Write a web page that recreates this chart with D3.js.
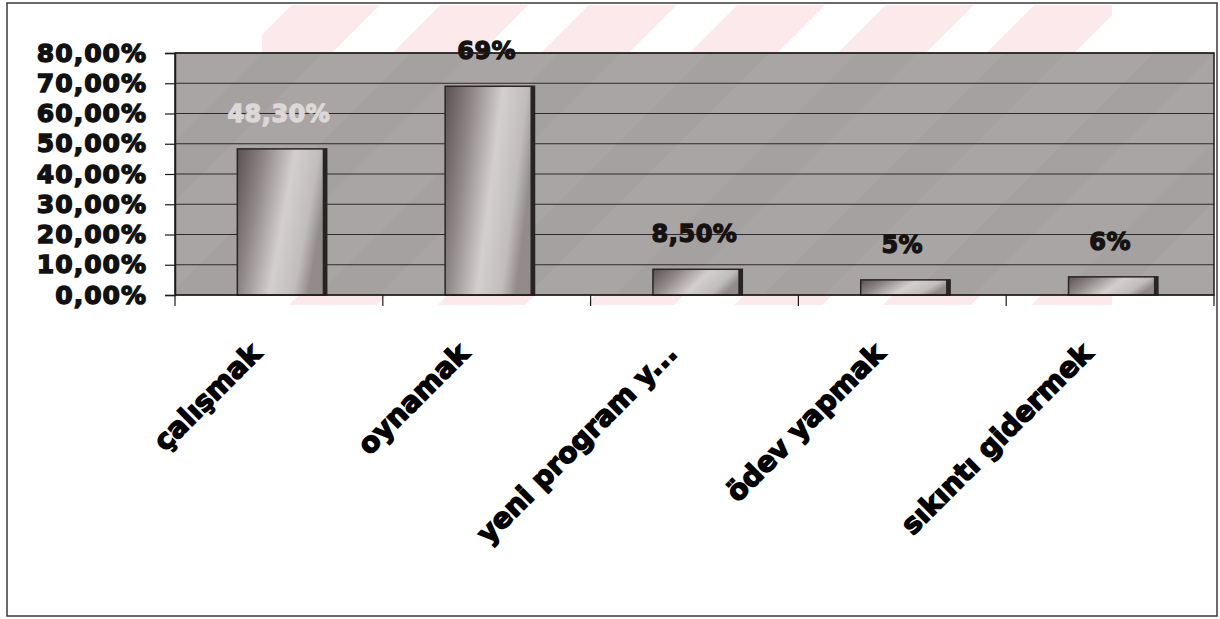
<!DOCTYPE html>
<html>
<head>
<meta charset="utf-8">
<script src="https://d3js.org/d3.v7.min.js"></script>
<style>
  body { margin: 0; background: #fff; }
  text { font-family: "DejaVu Sans", "Liberation Sans", sans-serif; font-weight: bold; }
</style>
</head>
<body>
<div id="d3-viz-container"></div>
<script>
// data
const categories = ["çalışmak", "oynamak", "yeni program y...", "ödev yapmak", "sıkıntı gidermek"];
const values = [48.3, 69, 8.5, 5, 6];
const valueLabels = ["48,30%", "69%", "8,50%", "5%", "6%"];
const yTicks = [0, 10, 20, 30, 40, 50, 60, 70, 80];

const W = 1220, H = 619;
const margin = { top: 53, right: 6, bottom: 324, left: 175 },
    width = W - margin.left - margin.right,
    height = H - margin.top - margin.bottom;

const root = d3.select("#d3-viz-container")
    .append("svg")
    .attr("width", W)
    .attr("height", H);

const defs = root.append("defs");

// pink watermark stripes (thesis scan)
const wm = defs.append("pattern")
    .attr("id", "wm")
    .attr("patternUnits", "userSpaceOnUse")
    .attr("width", 105)
    .attr("height", 105)
    .attr("patternTransform", "rotate(45)");
wm.append("rect").attr("width", 62).attr("height", 105).attr("fill", "#f9dfe2");

// bar shading
const grad = defs.append("linearGradient")
    .attr("id", "barGrad")
    .attr("x1", "0%").attr("y1", "0%").attr("x2", "100%").attr("y2", "30%");
[["0%", "#5a5151"], ["30%", "#918a8a"], ["60%", "#d4cfcf"], ["85%", "#c2bdbd"], ["100%", "#938b8b"]]
    .forEach(s => grad.append("stop").attr("offset", s[0]).attr("stop-color", s[1]));

// outer frame
root.append("rect")
    .attr("x", 7).attr("y", 3)
    .attr("width", W - 10).attr("height", H - 6)
    .attr("fill", "none")
    .attr("stroke", "#3a3a3a")
    .attr("stroke-width", 1.5);

// watermark outside the plot
root.append("rect")
    .attr("x", 262).attr("y", 5)
    .attr("width", 850).attr("height", 300)
    .attr("fill", "url(#wm)")
    .attr("opacity", 0.7);

const svg = root.append("g")
    .attr("transform", `translate(${margin.left},${margin.top})`);

// X scale
const x = d3.scaleBand()
    .domain(categories)
    .range([0, width])
    .padding(0);

// Y scale
const y = d3.scaleLinear()
    .domain([0, 80])
    .range([height, 0]);

// plot background
svg.append("rect")
    .attr("width", width)
    .attr("height", height)
    .attr("fill", "#a5a1a1");
svg.append("rect")
    .attr("width", width)
    .attr("height", height)
    .attr("fill", "url(#wm)")
    .attr("opacity", 0.06);

// gridlines
svg.append("g")
    .selectAll("line")
    .data(yTicks)
    .join("line")
    .attr("x1", 0)
    .attr("x2", width)
    .attr("y1", d => y(d))
    .attr("y2", d => y(d))
    .attr("stroke", "#2e2a2a")
    .attr("stroke-width", 1);

// bars
const barOffset = x.bandwidth() * 0.3;
const barWidth = x.bandwidth() * 0.43;

const bars = svg.append("g")
    .selectAll("g")
    .data(categories.map((c, i) => ({ cat: c, value: values[i], label: valueLabels[i] })))
    .join("g");

bars.append("rect")
    .attr("x", d => x(d.cat) + barOffset)
    .attr("y", d => y(d.value))
    .attr("width", barWidth)
    .attr("height", d => height - y(d.value))
    .attr("fill", "url(#barGrad)")
    .attr("stroke", "#2a2424")
    .attr("stroke-width", 1.5);

// dark side strip on the right of each bar
bars.append("rect")
    .attr("x", d => x(d.cat) + barOffset + barWidth - 4)
    .attr("y", d => y(d.value))
    .attr("width", 4)
    .attr("height", d => height - y(d.value))
    .attr("fill", "#2b2222");

// value labels
bars.append("text")
    .attr("x", d => x(d.cat) + x.bandwidth() / 2)
    .attr("y", d => y(d.value) - 27)
    .attr("text-anchor", "middle")
    .style("font-size", "24px")
    .style("letter-spacing", "0.5px")
    .attr("fill", (d, i) => i === 0 ? "#dcd8d8" : "#161212")
    .attr("stroke", (d, i) => i === 0 ? "#dcd8d8" : "#161212")
    .attr("stroke-width", 1.3)
    .text(d => d.label);

// plot border
svg.append("rect")
    .attr("width", width)
    .attr("height", height)
    .attr("fill", "none")
    .attr("stroke", "#1e1a1a")
    .attr("stroke-width", 1.5);

// Y axis
const fmt = d => d.toFixed(2).replace(".", ",") + "%";
const yAxis = svg.append("g")
    .call(d3.axisLeft(y).tickValues(yTicks).tickSize(10).tickPadding(18).tickFormat(fmt));
yAxis.select(".domain").attr("stroke", "#1e1a1a").attr("stroke-width", 1.5);
yAxis.selectAll(".tick line").attr("stroke", "#1e1a1a").attr("stroke-width", 1.2);
yAxis.selectAll(".tick text")
    .attr("fill", "#111")
    .attr("stroke", "#111")
    .attr("stroke-width", 1.4)
    .style("font-size", "25px")
    .style("letter-spacing", "1px");

// X axis: ticks on category boundaries
const xAxis = svg.append("g")
    .attr("transform", `translate(0, ${height})`);
xAxis.selectAll("line")
    .data(categories.map(c => x(c)).concat([width]))
    .join("line")
    .attr("x1", d => d).attr("x2", d => d)
    .attr("y1", 0).attr("y2", 11)
    .attr("stroke", "#1e1a1a")
    .attr("stroke-width", 1.2);

// rotated category labels
xAxis.selectAll("text")
    .data(categories)
    .join("text")
    .attr("transform", d => `translate(${x(d) + x.bandwidth() / 2 - 16}, 60) rotate(-45)`)
    .attr("text-anchor", "end")
    .attr("fill", "#000")
    .attr("stroke", "#000")
    .attr("stroke-width", 1.5)
    .style("font-size", "28px")
    .text(d => d);
</script>
</body>
</html>
